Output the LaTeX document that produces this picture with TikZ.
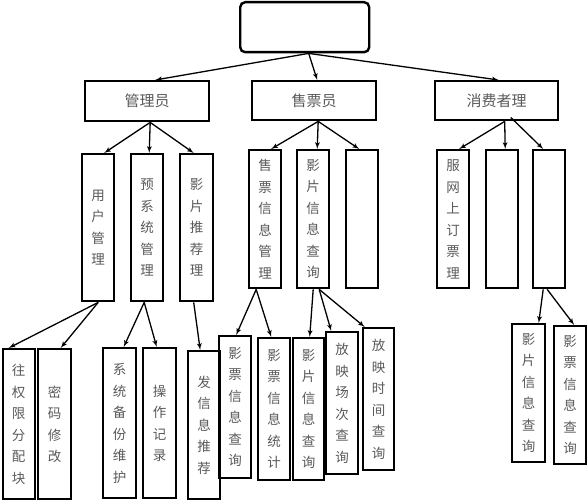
\documentclass[tikz,border=0pt]{standalone}
\usepackage{fontspec}
\newfontfamily\cjk{Noto Sans CJK SC}
\usepackage{tikz}
\usetikzlibrary{positioning}
\usetikzlibrary{shapes,arrows}
\tikzstyle{rootbox} = [rectangle, draw, line width=2.4pt, rounded corners=5pt,
    anchor=north west, minimum width=129pt, minimum height=50pt]
\tikzstyle{role} = [rectangle, draw, line width=2.4pt, anchor=north west,
    minimum width=124pt, minimum height=40pt, text=black!65,
    font=\cjk\fontsize{15pt}{15pt}\selectfont]
\tikzstyle{block} = [rectangle, draw, line width=2.4pt, anchor=north west,
    minimum width=32pt, text width=16pt, align=center, inner sep=0pt,
    text=black!65, font=\cjk\fontsize{13.5pt}{21.5pt}\selectfont]
\tikzstyle{line} = [draw, -latex', line width=1.3pt]

\begin{document}
\begin{tikzpicture}[x=1pt, y=-1pt]
        \useasboundingbox (0,0) rectangle (587,500);
            % Nodes
        \node [rootbox] (root) at (239,1) {};
        \node [role] (adm) at (84,80) {管理员};
        \node [role, minimum height=39pt] (sell) at (251,80) {售票员};
        \node [role, minimum height=39pt, minimum width=123pt] (cons) at (434,80) {消费者理};
        \node [block, minimum height=147pt] (user) at (81,153) {用\\户\\管\\理};
        \node [block, minimum height=147pt] (sys) at (130,153) {预\\系\\统\\管\\理};
        \node [block, minimum height=147pt, minimum width=33pt] (rec) at (179,153) {影\\片\\推\\荐\\理};
        \node [block, minimum height=138pt] (tick) at (248,149) {售\\票\\信\\息\\管\\理};
        \node [block, minimum height=138pt] (film) at (296,149) {影\\片\\信\\息\\查\\询};
        \node [block, minimum height=138pt] (sblank) at (345,149) {};
        \node [block, minimum height=138pt] (order) at (436,149) {服\\网\\上\\订\\票\\理};
        \node [block, minimum height=138pt] (cblank) at (485,149) {};
        \node [block, minimum height=138pt] (cquery) at (532,149) {};
        \node [block, minimum height=150pt] (perm) at (1.5,348) {往\\权\\限\\分\\配\\块};
        \node [block, minimum height=150pt, minimum width=33pt] (pwd) at (37,348) {密\\码\\修\\改};
        \node [block, minimum height=150pt, minimum width=33pt] (backup) at (102,347) {系\\统\\备\\份\\维\\护};
        \node [block, minimum height=150pt, minimum width=33pt] (oplog) at (142,347) {操\\作\\记\\录};
        \node [block, minimum height=148pt] (push) at (187,350) {发\\信\\息\\推\\荐};
        \node [block, minimum height=142pt] (tq) at (218,335) {影\\票\\信\\息\\查\\询};
        \node [block, minimum height=142pt] (tstat) at (257,337) {影\\票\\信\\息\\统\\计};
        \node [block, minimum height=142pt, minimum width=31pt] (fq) at (292,337) {影\\片\\信\\息\\查\\询};
        \node [block, minimum height=142pt] (showq) at (325,331) {放\\映\\场\\次\\查\\询};
        \node [block, minimum height=142pt, minimum width=31pt] (timeq) at (362,327) {放\\映\\时\\间\\查\\询};
        \node [block, minimum height=138pt, minimum width=33pt] (cfq) at (511,323) {影\\片\\信\\息\\查\\询};
        \node [block, minimum height=138pt, minimum width=32pt] (ctq) at (553,325) {影\\票\\信\\息\\查\\询};
            % Edges
        \path [line] ([xshift=4pt]root.south) -- ([xshift=8pt]adm.north);
        \path [line] ([xshift=4pt]root.south) -- ([xshift=3pt]sell.north);
        \path [line] ([xshift=4pt]root.south) -- ([xshift=2pt]cons.north);
        \path [line] ([xshift=3pt]adm.south) -- ([xshift=6pt]user.north);
        \path [line] ([xshift=3pt]adm.south) -- ([xshift=2pt]sys.north);
        \path [line] ([xshift=3pt]adm.south) -- ([xshift=-3pt]rec.north);
        \path [line] ([xshift=4pt]sell.south) -- ([xshift=6pt]tick.north);
        \path [line] ([xshift=4pt]sell.south) -- ([xshift=4pt]film.north);
        \path [line] ([xshift=4pt]sell.south) -- ([xshift=-3pt]sblank.north);
        \path [line] ([xshift=8pt]cons.south) -- ([xshift=6pt]order.north);
        \path [line] ([xshift=8pt]cons.south) -- ([xshift=3pt]cblank.north);
        \path [line] ([xshift=14pt,yshift=4pt]cons.south) -- ([xshift=-6pt]cquery.north);
        \path [line] (user.south) -- ([xshift=-10pt]perm.north);
        \path [line] (user.south) -- ([xshift=6pt]pwd.north);
        \path [line] ([xshift=-3pt]sys.south) -- ([xshift=4pt]backup.north);
        \path [line] ([xshift=-3pt]sys.south) -- ([xshift=-3pt]oplog.north);
        \path [line] ([xshift=-3pt]rec.south) -- ([xshift=-4pt]push.north);
        \path [line] ([xshift=-9pt]tick.south) -- ([xshift=1pt]tq.north);
        \path [line] ([xshift=-9pt]tick.south) -- ([xshift=-3pt]tstat.north);
        \path [line] (film.south) -- ([xshift=1pt]fq.north);
        \path [line] ([xshift=6pt]film.south) -- ([xshift=-11pt]showq.north);
        \path [line] ([xshift=6pt]film.south) -- ([xshift=-14pt]timeq.north);
        \path [line] ([xshift=-6pt]cquery.south) -- ([xshift=10pt]cfq.north);
        \path [line] ([xshift=-2pt]cquery.south) -- ([xshift=4pt]ctq.north);
    \end{tikzpicture}
\end{document}
